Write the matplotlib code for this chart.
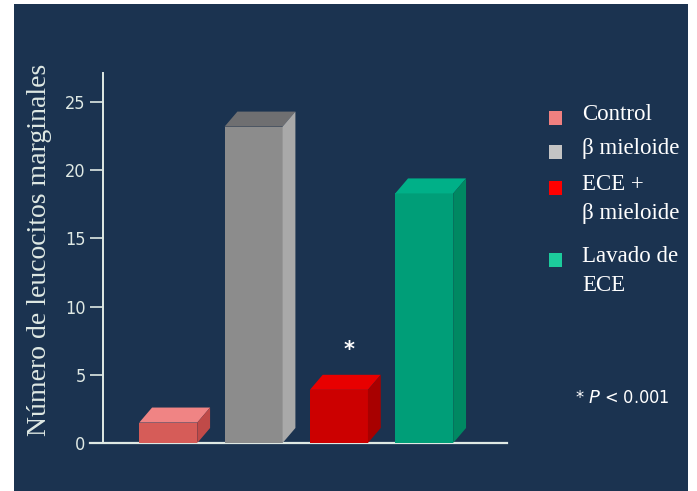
import matplotlib
matplotlib.use("Agg")
import matplotlib.pyplot as plt
from matplotlib.patches import Rectangle, Polygon

categories = ["Control", "β mieloide", "ECE +\nβ mieloide", "Lavado de\nECE"]
values = [1.5, 23.2, 3.9, 18.3]
yticks = [0, 5, 10, 15, 20, 25]

front_cols = ["#d65c58", "#8c8c8c", "#cc0000", "#009e78"]
top_cols = ["#f08484", "#6f6f71", "#e80000", "#00b088"]
side_cols = ["#c04a48", "#a9a9a9", "#a80000", "#008862"]
legend_cols = ["#f08080", "#c4c4c4", "#ff0000", "#1ccb9c"]

BG = "#1b3350"
FG = "#dfe9e4"

fig = plt.figure(figsize=(6.97, 4.91), dpi=100)
fig.patch.set_facecolor("white")
fig.patches.append(Rectangle((14 / 697, 0), (688 - 14) / 697, (491 - 4) / 491,
                             transform=fig.transFigure, facecolor=BG,
                             edgecolor="none", zorder=-5))

ax = fig.add_axes([103 / 697, 48 / 491, 404 / 697, 370 / 491])
ax.set_zorder(2)
ax.set_facecolor("none")
ax.set_xlim(-0.765, 3.97)
ax.set_ylim(0, 27.13)

x = list(range(len(values)))
w = 0.68
dx = 0.15
dy = 1.1
for i, v in enumerate(values):
    ax.bar(x[i], v, width=w, color=front_cols[i], zorder=3)
    l, r = x[i] - w / 2, x[i] + w / 2
    ax.add_patch(Polygon([(l, v), (r, v), (r + dx, v + dy), (l + dx, v + dy)],
                         closed=True, facecolor=top_cols[i], edgecolor="none", zorder=3))
    ax.add_patch(Polygon([(r, 0), (r + dx, dy), (r + dx, v + dy), (r, v)],
                         closed=True, facecolor=side_cols[i], edgecolor="none", zorder=3))

ax.text(x[2] + 0.12, values[2] + 2.9, "*", color="white", fontsize=15,
        fontweight="bold", ha="center", va="center", zorder=4)

for s in ["top", "right", "bottom"]:
    ax.spines[s].set_visible(False)
ax.spines["left"].set_color(FG)
ax.spines["left"].set_linewidth(1.4)
ax.axhline(0, xmin=-13 / 404, xmax=1, color=FG, lw=1.6, clip_on=False, zorder=2)
ax.set_xticks([])
ax.set_yticks(yticks)
ax.set_yticklabels([str(t) for t in yticks], family="DejaVu Sans",
                   stretch="condensed", fontsize=13)
ax.tick_params(axis="y", colors=FG, length=9.5, width=1.2, pad=3)

fig.text(40 / 697, 1 - 250 / 491, "Número de leucocitos marginales", rotation=90,
         family="Liberation Serif", fontsize=20, color=FG, ha="center", va="center")

leg_y = [118, 152, 188, 260]
for i, lab in enumerate(categories):
    fig.patches.append(Rectangle((549 / 697, 1 - (leg_y[i] + 7) / 491), 13 / 697, 14 / 491,
                                 transform=fig.transFigure, facecolor=legend_cols[i],
                                 edgecolor="none", zorder=1))
    fig.text(582 / 697, 1 - (leg_y[i] - 14) / 491, lab, family="Liberation Serif",
             fontsize=16.5, color="white", ha="left", va="top", linespacing=1.5)

fig.text(575 / 697, 1 - 398 / 491, r"* $\it{P}$ < 0.001", family="DejaVu Sans",
         stretch="condensed", fontsize=13, color="white", ha="left", va="center")

fig.savefig("out.png", dpi=100, facecolor=fig.get_facecolor())
